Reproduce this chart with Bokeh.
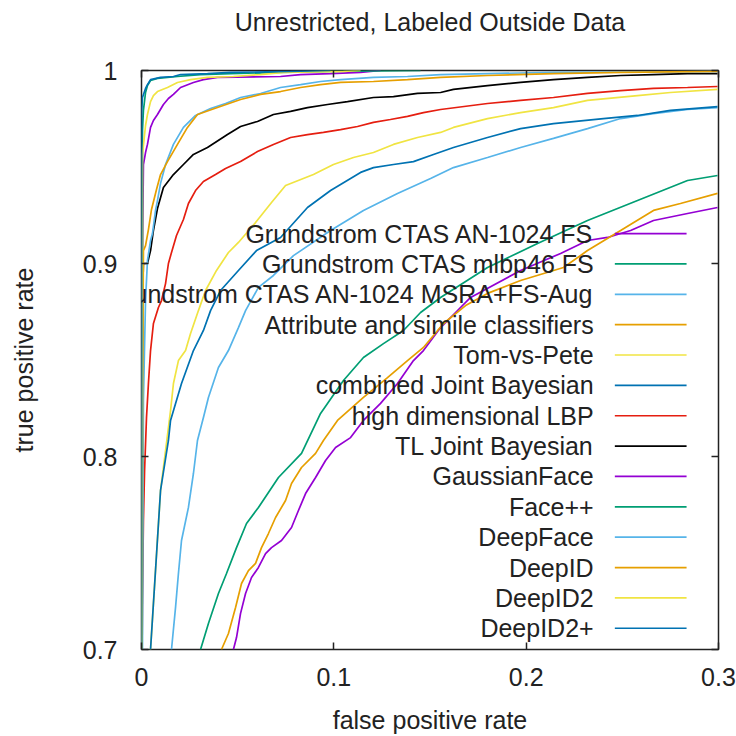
from bokeh.plotting import figure
from bokeh.models import Range1d, FixedTicker, CustomJSTickFormatter, LinearAxis, LabelSet, Label, ColumnDataSource
from bokeh.core.properties import value
from bokeh.embed import file_html
from bokeh.resources import INLINE

# ---------------- data (false positive rate, true positive rate) ----------------
an1024_fs_fpr = [0.0478, 0.0494, 0.0515, 0.0541, 0.0572, 0.0608, 0.0645, 0.0676, 0.0728, 0.0780, 0.0816,
                 0.0853, 0.0905, 0.0957, 0.1009, 0.1087, 0.1154, 0.1243, 0.1331, 0.1414, 0.1466, 0.1555,
                 0.1633, 0.1711, 0.1971, 0.2179, 0.2319, 0.2423, 0.2543, 0.2662, 0.2839, 0.2995]
an1024_fs_tpr = [0.700, 0.7062, 0.7187, 0.7290, 0.7373, 0.7425, 0.7497, 0.7528, 0.7565, 0.7632, 0.7720,
                 0.7808, 0.7891, 0.7979, 0.8047, 0.8098, 0.8187, 0.8275, 0.8378, 0.8497, 0.8549, 0.8668,
                 0.8746, 0.8824, 0.8964, 0.9052, 0.9119, 0.9135, 0.9171, 0.9223, 0.9259, 0.9290]

mlbp46_fpr = [0.0307, 0.0348, 0.0400, 0.0442, 0.0494, 0.0546, 0.0608, 0.0712, 0.0832, 0.0931, 0.1050,
              0.1154, 0.1258, 0.1362, 0.1451, 0.1555, 0.1799, 0.2059, 0.2319, 0.2579, 0.2839, 0.2995]
mlbp46_tpr = [0.700, 0.7135, 0.7290, 0.7394, 0.7528, 0.7653, 0.7736, 0.7891, 0.8016, 0.8223, 0.8394,
              0.8513, 0.8585, 0.8653, 0.8746, 0.8824, 0.8979, 0.9104, 0.9223, 0.9326, 0.9430, 0.9456]

msra_fpr = [0.0156, 0.0177, 0.0192, 0.0208, 0.0244, 0.0270, 0.0291, 0.0322, 0.0348, 0.0400, 0.0452,
            0.0504, 0.0541, 0.0608, 0.0686, 0.0790, 0.0983, 0.1154, 0.1331, 0.1503, 0.1622, 0.1799,
            0.1971, 0.2142, 0.2319, 0.2491, 0.2662, 0.2839, 0.2995]
msra_tpr = [0.700, 0.7218, 0.7394, 0.7565, 0.7736, 0.7912, 0.8083, 0.8202, 0.8306, 0.8461, 0.8549,
            0.8668, 0.8756, 0.8876, 0.8938, 0.9041, 0.9171, 0.9275, 0.9363, 0.9440, 0.9497, 0.9549,
            0.9601, 0.9648, 0.9699, 0.9751, 0.9777, 0.9798, 0.9808]

attribute_fpr = [0.0416, 0.0452, 0.0489, 0.0520, 0.0556, 0.0593, 0.0624, 0.0660, 0.0697, 0.0749, 0.0780,
                 0.0832, 0.0905, 0.0946, 0.1019, 0.1154, 0.1279, 0.1383, 0.1466, 0.1570, 0.1685, 0.1799,
                 0.1971, 0.2194, 0.2319, 0.2491, 0.2662, 0.2802, 0.2995]
attribute_tpr = [0.700, 0.7083, 0.7218, 0.7342, 0.7409, 0.7446, 0.7528, 0.7601, 0.7684, 0.7772, 0.7860,
                 0.7943, 0.8016, 0.8083, 0.8187, 0.8306, 0.8409, 0.8497, 0.8565, 0.8689, 0.8782, 0.8845,
                 0.8912, 0.8979, 0.9067, 0.9171, 0.9275, 0.9311, 0.9363]

tomvspete_fpr = [0.0047, 0.0099, 0.0125, 0.0151, 0.0166, 0.0192, 0.0229, 0.0255, 0.0296, 0.0333, 0.0390,
                 0.0452, 0.0504, 0.0593, 0.0676, 0.0749, 0.0894, 0.0998, 0.1102, 0.1206, 0.1310, 0.1435,
                 0.1555, 0.1622, 0.1799, 0.1971, 0.2142, 0.2319, 0.2579, 0.2750, 0.2995]
tomvspete_tpr = [0.700, 0.7824, 0.8031, 0.8238, 0.8378, 0.8497, 0.8549, 0.8637, 0.8756, 0.8860, 0.8964,
                 0.9057, 0.9109, 0.9212, 0.9316, 0.9404, 0.9461, 0.9513, 0.9549, 0.9575, 0.9617, 0.9653,
                 0.9679, 0.9705, 0.9751, 0.9782, 0.9808, 0.9845, 0.9870, 0.9886, 0.9902]

combined_jb_fpr = [0.0047, 0.0099, 0.0140, 0.0151, 0.0208, 0.0270, 0.0322, 0.0359, 0.0411, 0.0504, 0.0598,
                   0.0723, 0.0863, 0.0983, 0.1139, 0.1206, 0.1310, 0.1414, 0.1518, 0.1622, 0.1799, 0.1971,
                   0.2142, 0.2402, 0.2579, 0.2750, 0.2995]
combined_jb_tpr = [0.700, 0.7824, 0.8083, 0.8187, 0.8378, 0.8549, 0.8653, 0.8756, 0.8860, 0.8964, 0.9067,
                   0.9135, 0.9290, 0.9378, 0.9472, 0.9497, 0.9513, 0.9528, 0.9565, 0.9601, 0.9653, 0.9699,
                   0.9725, 0.9751, 0.9767, 0.9793, 0.9813]

hd_lbp_fpr = [0.0003, 0.0005, 0.0010, 0.0016, 0.0026, 0.0036, 0.0047, 0.0062, 0.0088, 0.0104, 0.0125,
              0.0140, 0.0156, 0.0182, 0.0218, 0.0244, 0.0281, 0.0322, 0.0385, 0.0437, 0.0515, 0.0603,
              0.0686, 0.0775, 0.0863, 0.0946, 0.1035, 0.1123, 0.1206, 0.1294, 0.1383, 0.1466, 0.1555,
              0.1799, 0.1971, 0.2142, 0.2319, 0.2491, 0.2662, 0.2839, 0.2995]
hd_lbp_tpr = [0.700, 0.7254, 0.7668, 0.7927, 0.8202, 0.8378, 0.8549, 0.8689, 0.8772, 0.8808, 0.8896,
              0.9000, 0.9057, 0.9145, 0.9228, 0.9311, 0.9378, 0.9425, 0.9461, 0.9492, 0.9528, 0.9580,
              0.9617, 0.9653, 0.9668, 0.9679, 0.9694, 0.9710, 0.9731, 0.9746, 0.9762, 0.9782, 0.9798,
              0.9829, 0.9845, 0.9860, 0.9881, 0.9896, 0.9907, 0.9912, 0.9917]

tl_jb_fpr = [0.0003, 0.0005, 0.0005, 0.0010, 0.0031, 0.0047, 0.0062, 0.0083, 0.0114, 0.0166, 0.0218,
             0.0270, 0.0343, 0.0447, 0.0515, 0.0603, 0.0686, 0.0775, 0.0863, 0.0967, 0.1071, 0.1206,
             0.1310, 0.1435, 0.1555, 0.1622, 0.1799, 0.1971, 0.2142, 0.2319, 0.2491, 0.2662, 0.2839, 0.2995]
tl_jb_tpr = [0.700, 0.7772, 0.8808, 0.9000, 0.9000, 0.9067, 0.9171, 0.9285, 0.9394, 0.9461, 0.9513,
             0.9565, 0.9601, 0.9668, 0.9710, 0.9736, 0.9772, 0.9788, 0.9808, 0.9824, 0.9839, 0.9860,
             0.9865, 0.9881, 0.9886, 0.9902, 0.9922, 0.9938, 0.9953, 0.9964, 0.9974, 0.9979, 0.9984, 0.9984]

gaussianface_fpr = [0.0003, 0.0005, 0.0008, 0.0010, 0.0021, 0.0031, 0.0047, 0.0062, 0.0083, 0.0114, 0.0140,
                    0.0166, 0.0203, 0.0270, 0.0322, 0.0395, 0.0723, 0.0827, 0.0983, 0.1139, 0.1191, 0.1243]
gaussianface_tpr = [0.700, 0.9067, 0.9326, 0.9513, 0.9575, 0.9617, 0.9705, 0.9741, 0.9772, 0.9824, 0.9855,
                    0.9876, 0.9912, 0.9938, 0.9953, 0.9964, 0.9969, 0.9979, 0.9984, 0.9990, 0.9995, 1.0]

facepp_fpr = [0.0002, 0.0005, 0.0005, 0.0010, 0.0021, 0.0031, 0.0047, 0.0083, 0.0187, 0.0307, 0.0463,
              0.0723, 0.0983, 0.1451]
facepp_tpr = [0.700, 0.8808, 0.9689, 0.9793, 0.9886, 0.9922, 0.9948, 0.9959, 0.9969, 0.9979, 0.9984,
              0.9990, 0.9995, 1.0]

deepface_fpr = [0.0005, 0.0010, 0.0021, 0.0031, 0.0047, 0.0057, 0.0073, 0.0083, 0.0099, 0.0125, 0.0166,
                0.0218, 0.0281, 0.0359, 0.0437, 0.0515, 0.0619, 0.0723, 0.0827, 0.0931, 0.1035, 0.1206,
                0.1383, 0.1555, 0.1799, 0.2142, 0.2491, 0.2995]
deepface_tpr = [0.700, 0.8290, 0.8808, 0.9016, 0.9119, 0.9155, 0.9275, 0.9326, 0.9415, 0.9513, 0.9617,
                0.9705, 0.9767, 0.9803, 0.9829, 0.9860, 0.9881, 0.9912, 0.9927, 0.9943, 0.9953, 0.9964,
                0.9969, 0.9979, 0.9984, 0.9990, 0.9992, 0.9995]

deepid_fpr = [0.0003, 0.0005, 0.0010, 0.0021, 0.0036, 0.0052, 0.0078, 0.0099, 0.0135, 0.0187, 0.0239,
              0.0291, 0.0395, 0.0515, 0.0619, 0.0723, 0.0827, 0.0931, 0.1035, 0.1206, 0.1383, 0.1555,
              0.1799, 0.2142, 0.2491, 0.2995]
deepid_tpr = [0.700, 0.8290, 0.9067, 0.9093, 0.9176, 0.9280, 0.9383, 0.9461, 0.9528, 0.9617, 0.9705,
              0.9772, 0.9808, 0.9850, 0.9876, 0.9891, 0.9912, 0.9927, 0.9938, 0.9943, 0.9953, 0.9964,
              0.9974, 0.9984, 0.9990, 0.9995]

deepid2_fpr = [0.0003, 0.0005, 0.0021, 0.0031, 0.0047, 0.0062, 0.0083, 0.0135, 0.0187, 0.0255, 0.0343,
               0.0478, 0.0619, 0.0738, 0.1050, 0.1139]
deepid2_tpr = [0.700, 0.9565, 0.9715, 0.9772, 0.9839, 0.9870, 0.9891, 0.9912, 0.9938, 0.9953, 0.9964,
               0.9969, 0.9979, 0.9990, 0.9995, 1.0]

deepid2p_fpr = [0.0001, 0.0001, 0.0005, 0.0021, 0.0031, 0.0047, 0.0099, 0.0166, 0.0203, 0.0343, 0.0463,
                0.0775, 0.0983]
deepid2p_tpr = [0.700, 0.9793, 0.9860, 0.9907, 0.9927, 0.9953, 0.9964, 0.9969, 0.9979, 0.9984, 0.9990,
                0.9995, 1.0]

series_names = [
    "Grundstrom CTAS AN-1024 FS",
    "Grundstrom CTAS mlbp46 FS",
    "Grundstrom CTAS AN-1024 MSRA+FS-Aug",
    "Attribute and simile classifiers",
    "Tom-vs-Pete",
    "combined Joint Bayesian",
    "high dimensional LBP",
    "TL Joint Bayesian",
    "GaussianFace",
    "Face++",
    "DeepFace",
    "DeepID",
    "DeepID2",
    "DeepID2+",
]
series_colors = ["#9400d3", "#009e73", "#56b4e9", "#e69f00", "#f0e442", "#0072b2", "#e51e10",
                 "#000000", "#9400d3", "#009e73", "#56b4e9", "#e69f00", "#f0e442", "#0072b2"]
series_data = [
    (an1024_fs_fpr, an1024_fs_tpr),
    (mlbp46_fpr, mlbp46_tpr),
    (msra_fpr, msra_tpr),
    (attribute_fpr, attribute_tpr),
    (tomvspete_fpr, tomvspete_tpr),
    (combined_jb_fpr, combined_jb_tpr),
    (hd_lbp_fpr, hd_lbp_tpr),
    (tl_jb_fpr, tl_jb_tpr),
    (gaussianface_fpr, gaussianface_tpr),
    (facepp_fpr, facepp_tpr),
    (deepface_fpr, deepface_tpr),
    (deepid_fpr, deepid_tpr),
    (deepid2_fpr, deepid2_tpr),
    (deepid2p_fpr, deepid2p_tpr),
]
x_ticks = [0, 0.1, 0.2, 0.3]
y_ticks = [0.7, 0.8, 0.9, 1.0]
chart_title = "Unrestricted, Labeled Outside Data"

FONT = "Liberation Sans"
TXT = "#222222"

p = figure(width=736, height=736, output_backend="svg", toolbar_location=None,
           x_range=Range1d(0, 0.3), y_range=Range1d(0.7, 1.0),
           min_border_left=141, min_border_right=18, min_border_top=70, min_border_bottom=87)
p.grid.visible = False
p.background_fill_color = "white"
p.border_fill_color = "white"
p.outline_line_color = "#222222"
p.outline_line_width = 1.5

fmt = CustomJSTickFormatter(code="return String(Math.round(tick*10)/10);")
for ax, ticks in ((p.xaxis[0], x_ticks), (p.yaxis[0], y_ticks)):
    ax.ticker = FixedTicker(ticks=ticks)
    ax.formatter = fmt
    ax.axis_line_color = None
    ax.major_tick_in = 7
    ax.major_tick_out = 0
    ax.minor_tick_in = 0
    ax.minor_tick_out = 0
    ax.major_tick_line_color = "#222222"
    ax.major_tick_line_width = 1.5
    ax.major_label_text_font = FONT
    ax.major_label_text_font_size = "25px"
    ax.major_label_text_color = TXT
    ax.axis_label_text_font = FONT
    ax.axis_label_text_font_size = "25px"
    ax.axis_label_text_font_style = "normal"
    ax.axis_label_text_color = TXT

p.xaxis.axis_label = "false positive rate"
p.yaxis.axis_label = "true positive rate"
p.xaxis.major_label_standoff = 18
p.yaxis.major_label_standoff = 24
p.xaxis.axis_label_standoff = 17
p.yaxis.axis_label_standoff = 42

# mirrored ticks on top and right
for loc, ticks in (("above", x_ticks), ("right", y_ticks)):
    mirror = LinearAxis(ticker=FixedTicker(ticks=ticks),
                        formatter=CustomJSTickFormatter(code="return '';"),
                        axis_line_color=None, major_tick_in=7, major_tick_out=0,
                        minor_tick_in=0, minor_tick_out=0, major_label_standoff=0,
                        major_tick_line_color="#222222", major_tick_line_width=1.5,
                        major_label_text_font_size="1px")
    p.add_layout(mirror, loc)

# chart title, in the top panel (not clipped by the frame), centred over the frame
p.add_layout(Label(x=0.15, y=1.0249, text=chart_title, text_align="center", text_baseline="middle",
                   text_font=FONT, text_font_size="25px", text_color=TXT), "above")

for (xs, ys), color in zip(series_data, series_colors):
    p.line(xs, ys, line_color=color, line_width=1.7)

# gnuplot-style key: label on the left, line sample on the right
n = len(series_names)
row0, row_step = 0.9155, 0.01573
leg_y = [row0 - i * row_step for i in range(n)]
key_src = ColumnDataSource(dict(x=[0.2351] * n, y=leg_y, text=series_names))
p.add_layout(LabelSet(x="x", y="y", text="text", source=key_src, text_align="right",
                      text_baseline="middle", text_font=value(FONT),
                      text_font_size=value("25px"), text_color=TXT))
p.segment(x0=[0.2461] * n, x1=[0.2834] * n, y0=leg_y, y1=leg_y,
          line_color=series_colors, line_width=1.7)

open("out.html", "w").write(file_html(p, INLINE))
